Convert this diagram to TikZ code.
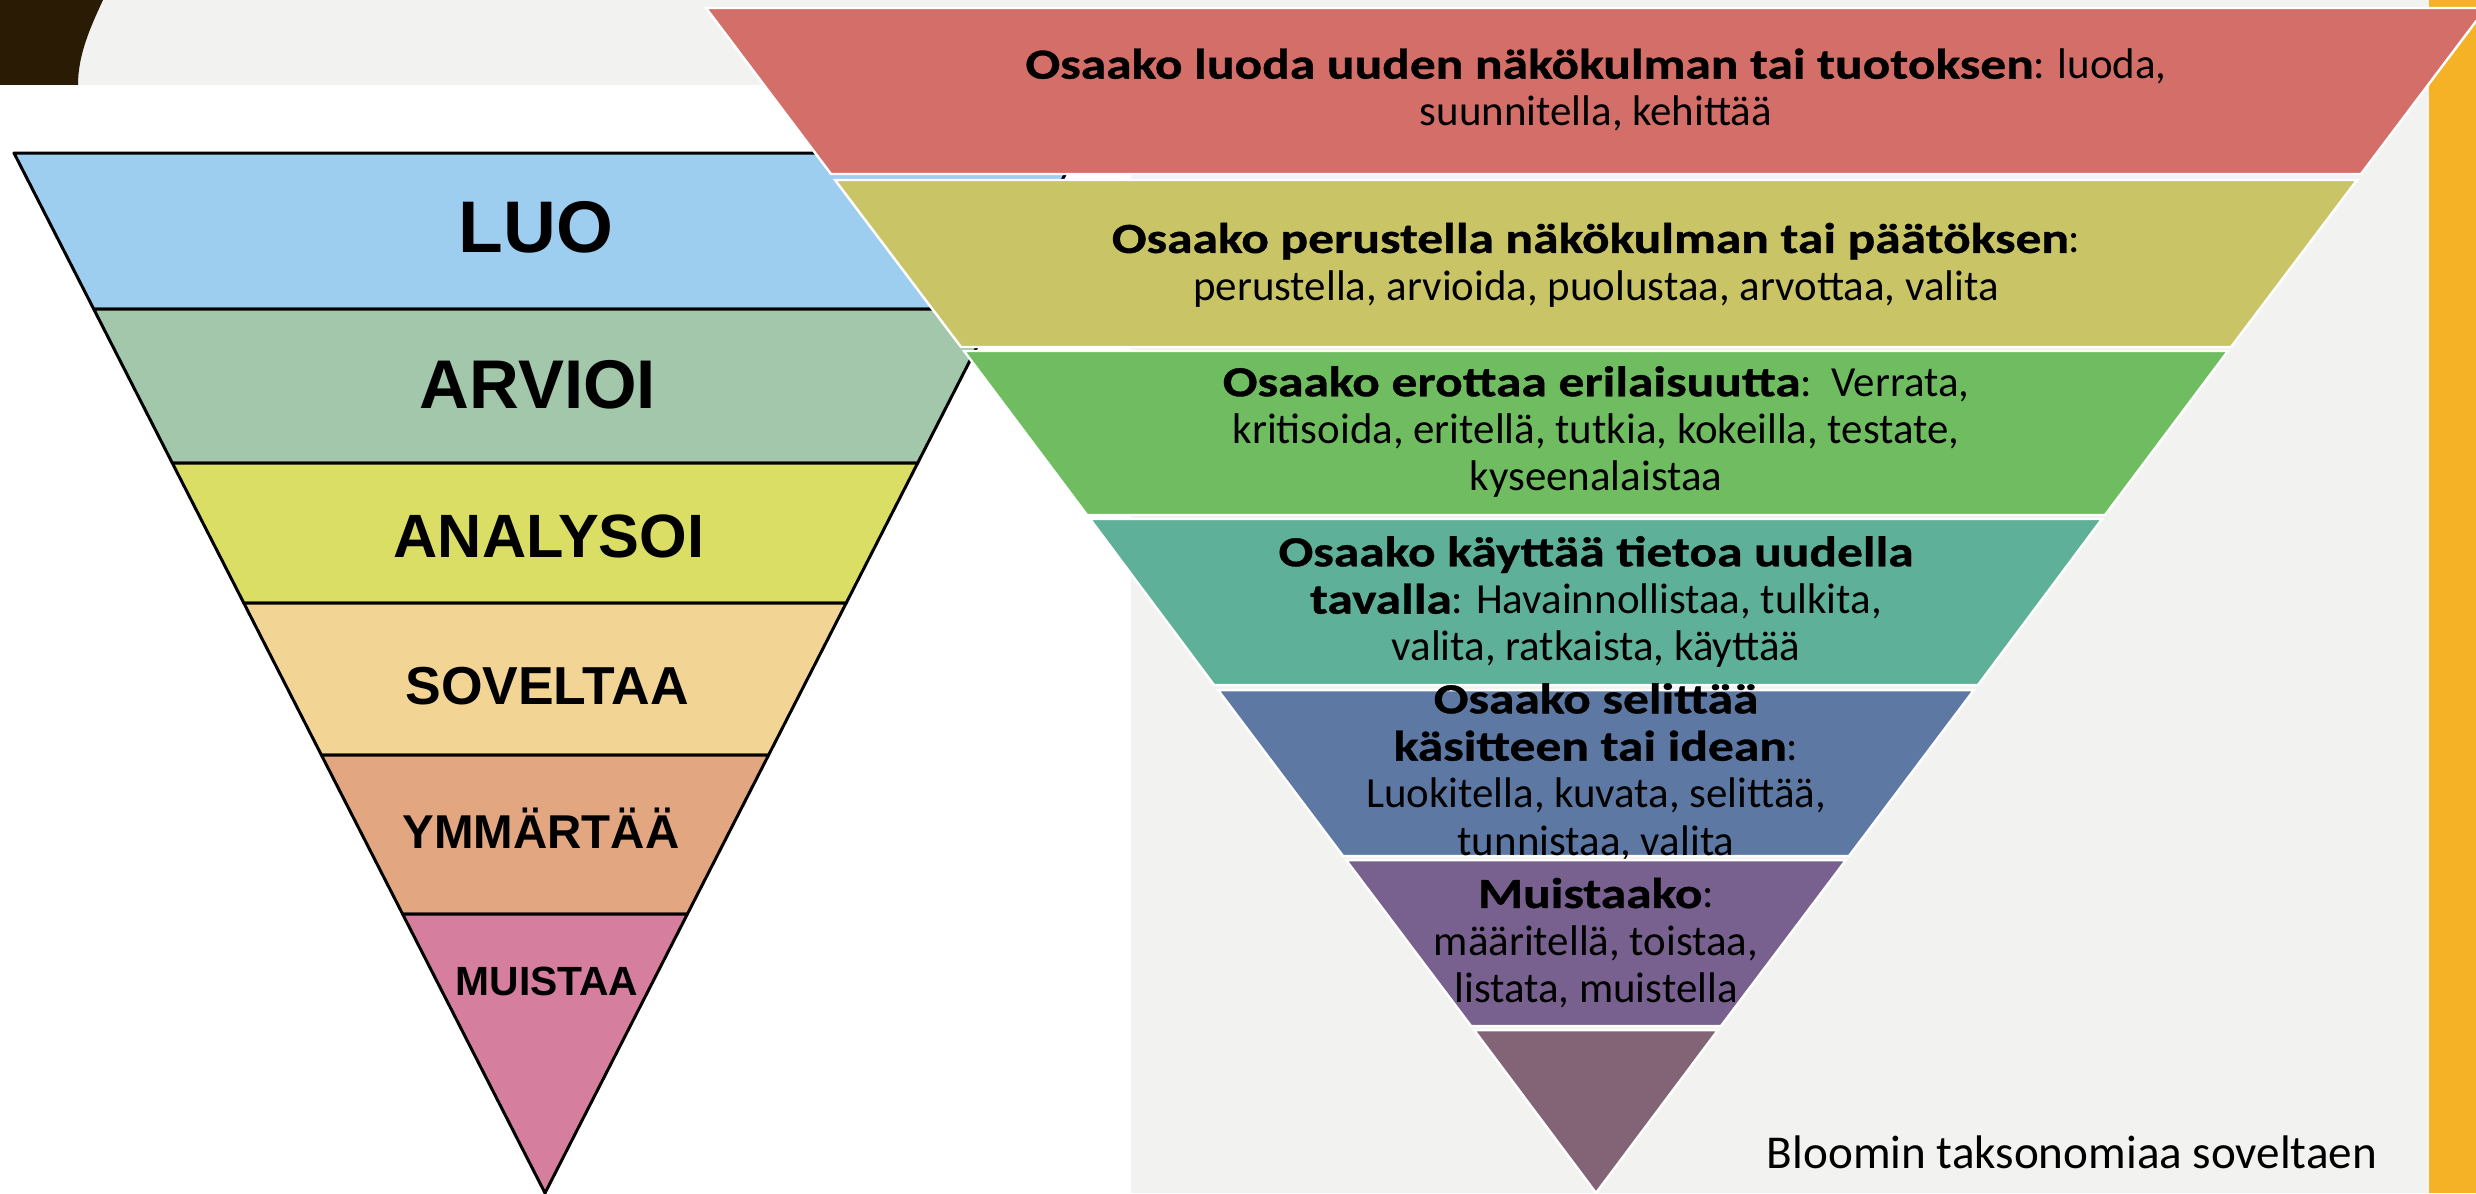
\documentclass[tikz,border=0pt]{standalone}
\usepackage{fontspec}
\setmainfont{Carlito}[BoldFeatures={FakeStretch=1.2,FakeBold=0.8}]
\newfontfamily\labelfont{Liberation Sans}
\usepackage{tikz}
\definecolor{slidegrey}{RGB}{242,242,241}
\definecolor{cornerbrown}{RGB}{42,28,4}
\definecolor{sidebarorange}{RGB}{246,178,38}
\definecolor{luoblue}{RGB}{157,205,239}
\definecolor{arvioigreen}{RGB}{162,199,170}
\definecolor{analysoiyellow}{RGB}{218,222,100}
\definecolor{soveltaasand}{RGB}{242,212,148}
\definecolor{ymmartaapeach}{RGB}{226,166,128}
\definecolor{muistaapink}{RGB}{214,126,158}
\definecolor{luodared}{RGB}{212,110,105}
\definecolor{perustellaolive}{RGB}{201,196,102}
\definecolor{erottaagreen}{RGB}{112,189,97}
\definecolor{kayttaateal}{RGB}{94,176,152}
\definecolor{selittaablue}{RGB}{93,121,163}
\definecolor{muistaakopurple}{RGB}{120,96,143}
\definecolor{tipmauve}{RGB}{131,99,118}

\begin{document}
\begin{tikzpicture}[
    x=0.01cm, y=-0.01cm,
    leftband/.style={draw=black, line width=0.85pt, line join=round},
    rightband/.style={draw=white, line width=0.7pt},
    levelname/.style={anchor=base, font=\labelfont\bfseries\fontsize{#1}{#1}\selectfont},
    levelnote/.style={align=center, font=\fontsize{12.2}{13.46}\selectfont}
]
    \useasboundingbox (0,0) rectangle (2476,1193);
    % slide background
    \fill[slidegrey] (0,0) rectangle (2476,1193);
    \fill[cornerbrown] (0,0) -- (103,0) .. controls (90,28) and (78,55) .. (78,85) -- (0,85) -- cycle;
    \fill[white] (0,85) rectangle (1131,1193);
    \fill[sidebarorange] (2429,0) rectangle (2476,1193);

    % left triangle
    \filldraw[leftband, fill=luoblue] (14,153) -- (1076,153) -- (996.3,309) -- (93.7,309) -- cycle;
    \filldraw[leftband, fill=arvioigreen] (93.7,309) -- (996.3,309) -- (917.7,463) -- (172.3,463) -- cycle;
    \filldraw[leftband, fill=analysoiyellow] (172.3,463) -- (917.7,463) -- (846.2,603) -- (243.8,603) -- cycle;
    \filldraw[leftband, fill=soveltaasand] (243.8,603) -- (846.2,603) -- (768.6,755) -- (321.4,755) -- cycle;
    \filldraw[leftband, fill=ymmartaapeach] (321.4,755) -- (768.6,755) -- (687.4,914) -- (402.6,914) -- cycle;
    \filldraw[leftband, fill=muistaapink] (402.6,914) -- (687.4,914) -- (545,1193) -- cycle;

    \node[levelname=20.8] (luo) at (536,252) {LUO};
    \node[levelname=19.6] (arvioi) at (538,408) {ARVIOI};
    \node[levelname=17.4] (analysoi) at (549,557) {ANALYSOI};
    \node[levelname=15.2] (soveltaa) at (547,704) {SOVELTAA};
    \node[levelname=13.5] (ymmartaa) at (541,848) {YMMÄRTÄÄ};
    \node[levelname=11.6] (muistaa) at (547,995) {MUISTAA};

    % right pyramid
    \filldraw[rightband, fill=luodared] (706,8) -- (2486,8) -- (2361,174) -- (831,174) -- cycle;
    \node[levelnote] (luoda) at (1596,90) {{\bfseries Osaako luoda uuden näkökulman tai tuotoksen}: luoda,\\ suunnitella, kehittää};

    \filldraw[rightband, fill=perustellaolive] (835,180) -- (2357,180) -- (2231,347) -- (961,347) -- cycle;
    \node[levelnote] (perustella) at (1596,265) {{\bfseries Osaako perustella näkökulman tai päätöksen}:\\ perustella, arvioida, puolustaa, arvottaa, valita};

    \filldraw[rightband, fill=erottaagreen] (964,351) -- (2228,351) -- (2105,515) -- (1087,515) -- cycle;
    \node[levelnote] (erottaa) at (1596,432) {{\bfseries Osaako erottaa erilaisuutta}:\ \ Verrata,\\ kritisoida, eritellä, tutkia, kokeilla, testate,\\ kyseenalaistaa};

    \filldraw[rightband, fill=kayttaateal] (1090,519) -- (2102,519) -- (1978,685) -- (1214,685) -- cycle;
    \node[levelnote] (kayttaa) at (1596,602) {{\bfseries Osaako käyttää tietoa uudella}\\ {\bfseries tavalla}: Havainnollistaa, tulkita,\\ valita, ratkaista, käyttää};

    \filldraw[rightband, fill=selittaablue] (1218,690) -- (1974,690) -- (1849,856) -- (1343,856) -- cycle;
    \node[levelnote] (selittaa) at (1596,772) {{\bfseries Osaako selittää}\\ {\bfseries käsitteen tai idean}:\\ Luokitella, kuvata, selittää,\\ tunnistaa, valita};

    \filldraw[rightband, fill=muistaakopurple] (1346,860) -- (1846,860) -- (1721,1026) -- (1471,1026) -- cycle;
    \node[levelnote] (muistaako) at (1596,943) {{\bfseries Muistaako}:\\ määritellä, toistaa,\\ listata, muistella};

    \filldraw[rightband, fill=tipmauve] (1474,1030) -- (1718,1030) -- (1596,1193) -- cycle;

    \node[anchor=base, font=\fontsize{13.4}{16}\selectfont] (source) at (2072,1168) {Bloomin taksonomiaa soveltaen};
\end{tikzpicture}
\end{document}
